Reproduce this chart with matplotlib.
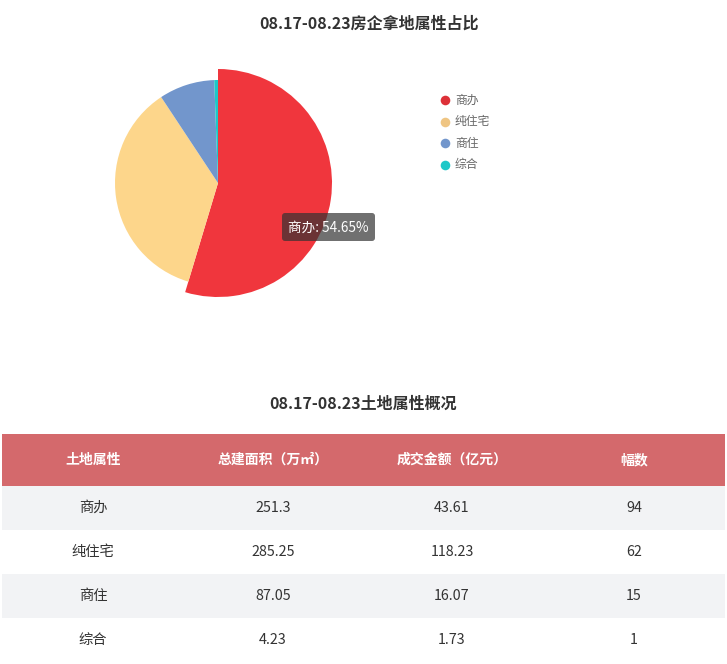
import matplotlib
matplotlib.use("Agg")
import matplotlib.pyplot as plt
from matplotlib.patches import Rectangle, FancyBboxPatch

plt.rcParams['font.family'] = ['Noto Sans CJK SC', 'DejaVu Sans']

# ---- data ----
categories = ['商办', '纯住宅', '商住', '综合']
area = ['251.3', '285.25', '87.05', '4.23']        # 总建面积（万㎡）
amount = ['43.61', '118.23', '16.07', '1.73']      # 成交金额（亿元）
counts = [94, 62, 15, 1]                           # 幅数
headers = ['土地属性', '总建面积（万㎡）', '成交金额（亿元）', '幅数']
pie_title = '08.17-08.23房企拿地属性占比'
table_title = '08.17-08.23土地属性概况'

colors = ['#f0363d', '#fdd68b', '#7296cc', '#1ec8c8']
legend_colors = ['#dd3138', '#efc583', '#7296cc', '#1ec8c8']

W, H = 727, 664
fig = plt.figure(figsize=(W / 100, H / 100), dpi=100)
ax = fig.add_axes([0, 0, 1, 1])
ax.set_xlim(0, W)
ax.set_ylim(0, H)
ax.axis('off')


def Y(py):
    return H - py


# ---- pie ----
cx, cy = 218, 183
wedges, _ = ax.pie(counts, colors=colors, startangle=90, counterclock=False,
                   center=(cx, Y(cy)), radius=103, frame=True,
                   wedgeprops=dict(linewidth=0))
wedges[0].set_radius(114)
ax.set_xlim(0, W)
ax.set_ylim(0, H)
ax.set_aspect('auto')
ax.axis('off')

ax.text(369, Y(24), pie_title, ha='center', va='center', fontsize=11.5,
        fontweight='bold', color='#333333')

# legend
for i, (c, lc) in enumerate(zip(categories, legend_colors)):
    yy = Y(100 + i * 21.5)
    ax.scatter([445], [yy], s=48, color=lc, zorder=5, linewidths=0)
    ax.text(455, yy, c, ha='left', va='center', fontsize=8.5, color='#666666')

# tooltip
total = sum(counts)
pct = counts[0] / total * 100
tip = FancyBboxPatch((282, Y(241)), 93, 28, boxstyle='round,pad=0,rounding_size=3',
                     facecolor=(0.2, 0.2, 0.2, 0.7), edgecolor='none', zorder=6)
ax.add_patch(tip)
ax.text(328.5, Y(227.5), f'{categories[0]}: {pct:.2f}%', ha='center', va='center',
        fontsize=9.8, color='white', zorder=7)

# ---- table ----
ax.text(363, Y(404), table_title, ha='center', va='center', fontsize=11.5,
        fontweight='bold', color='#333333')

x0, x1 = 2, 725
col_x = [93, 273, 452, 634]
head_top, head_bot = 434, 486
row_h = 44

ax.add_patch(Rectangle((x0, Y(head_bot)), x1 - x0, head_bot - head_top,
                       facecolor='#d4696c', edgecolor='none'))
for cx_, h in zip(col_x, headers):
    ax.text(cx_, Y((head_top + head_bot) / 2), h, ha='center', va='center',
            fontsize=10, fontweight='bold', color='white')

for r in range(len(categories)):
    top = head_bot + r * row_h
    fc = '#f2f3f5' if r % 2 == 0 else 'white'
    ax.add_patch(Rectangle((x0, Y(top + row_h)), x1 - x0, row_h,
                           facecolor=fc, edgecolor='none'))
    vals = [categories[r], area[r], amount[r], str(counts[r])]
    for cx_, v in zip(col_x, vals):
        ax.text(cx_, Y(top + row_h / 2), v, ha='center', va='center',
                fontsize=10.3, color='#333333')

fig.savefig('out.png', dpi=100)
